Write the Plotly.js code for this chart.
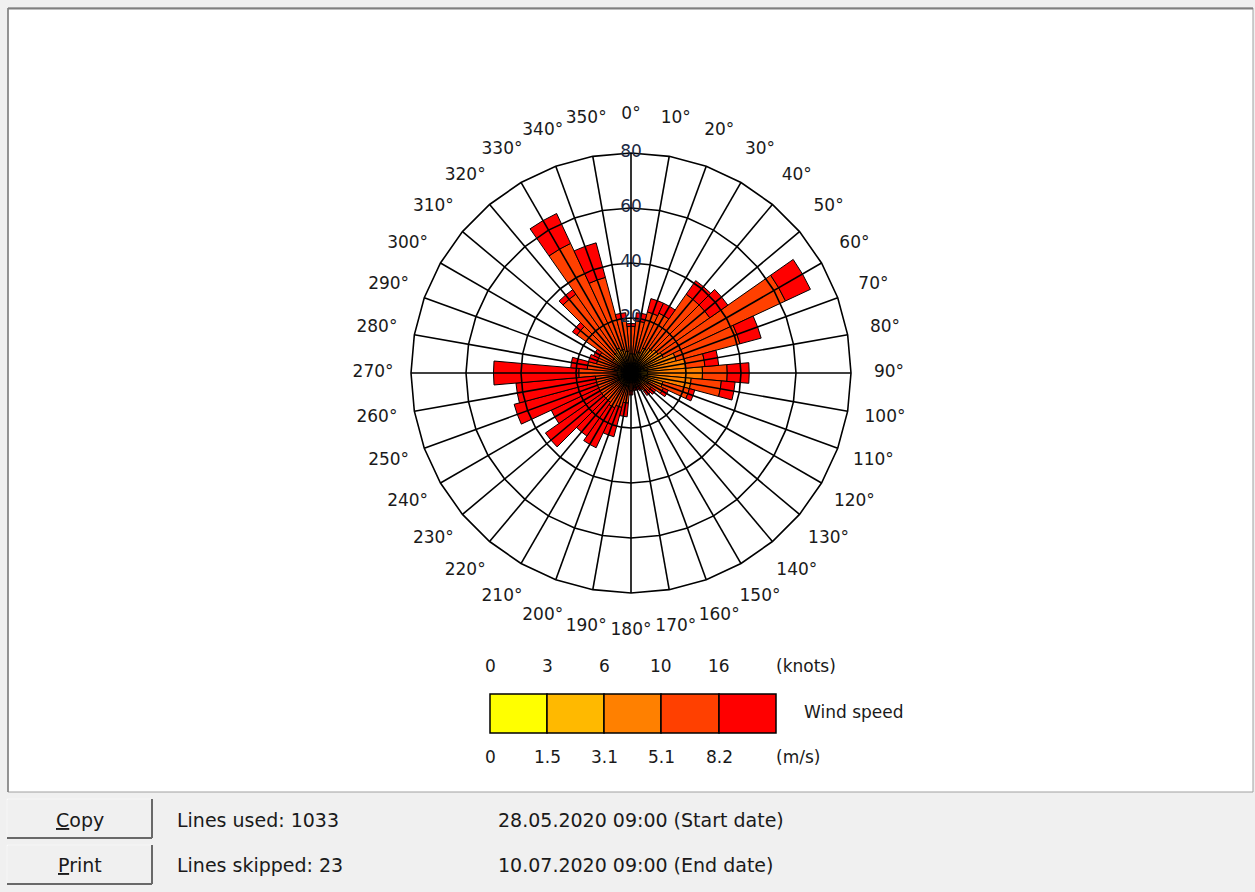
<!DOCTYPE html>
<html>
<head>
<meta charset="utf-8">
<script src="https://cdn.plot.ly/plotly-3.0.1.min.js"></script>
<style>
html,body{margin:0;padding:0;background:#f0f0f0;}
#chart{width:1255px;height:892px;}
</style>
</head>
<body>
<div id="chart"></div>
<script>
// ---- data ----
const directions = [0,10,20,30,40,50,60,70,80,90,100,110,120,130,140,150,160,170,180,190,200,210,220,230,240,250,260,270,280,290,300,310,320,330,340,350];
// frequency per direction for each wind speed class (stacked)
const speed0 = [1,1,1,1,1,1,1,1,1,1,1,1,1,1,1,0.5,0.5,0.5,0.5,0.5,0.5,0.5,0.5,0.5,0.5,0.5,0.5,0.5,0.5,0.5,0.5,1,1,1,1,1];
const speed1 = [2,2,2,3,3,3,3,4,5,5,5,3,2,2,2,1,1,1,1,1.5,1.5,1.5,1.5,1.5,1.5,1.5,1.5,1.5,1.5,1.5,1.5,2,2,2,2,2];
const speed2 = [4,4,5,6,7,8,9,12,14,20,16,8,4,3,2,2,2,2,2,3,3,3,3,3,3,3,3,3,4,3,3,5,6,7,6,5];
const speed3 = [10,12,15,14,24,23,49,24,7,9,11,10,6,3,3,2,2,2,3,6,8,9,8,8,8,8,8,14,10,8,8,16,26,42,27,12];
const speed4 = [1,3,5,4,6,8,10,8,5,8,5,2,2,2,2,1.5,1,1,1.5,5,11,16,15,25,19,31,29,31,6,3,2,2,2,12,13,2];
const speedSeries = [speed0, speed1, speed2, speed3, speed4];
const speedNames = ['0-1.5 m/s','1.5-3.1 m/s','3.1-5.1 m/s','5.1-8.2 m/s','>8.2 m/s'];
const speedColors = ['#ffff00','#ffb900','#ff8000','#ff4000','#ff0000'];
const radialTicks = [20,40,60,80];
const knotsLabels = ['0','3','6','10','16'];
const msLabels = ['0','1.5','3.1','5.1','8.2'];
const linesUsed = 1033;
const linesSkipped = 23;
const startDate = '28.05.2020 09:00';
const endDate = '10.07.2020 09:00';

// ---- layout helpers ----
const W = 1255, H = 892;
const px = x => x / W;
const py = y => 1 - y / H;
const cx = 631, cy = 373;
const rMax = 80;          // outer grid ring
const rRange = 100;       // radial axis range (room for direction labels)
const pxPerUnit = 220 / rMax;
const R = rRange * pxPerUnit;
const font = 'DejaVu Sans, Verdana, sans-serif';
const txt = '#1a1a1a';

const traces = [];
speedSeries.forEach((s, i) => {
  traces.push({
    type: 'barpolar',
    r: s,
    theta: directions,
    width: 10,
    name: speedNames[i],
    marker: {color: speedColors[i], line: {color: '#000', width: 1}},
    hoverinfo: 'skip',
    showlegend: false
  });
});

// grid overlay (spokes + 36-gon rings) drawn above bars
const gr = [], gt = [];
directions.forEach(d => { gr.push(0, rMax, null); gt.push(d, d, null); });
radialTicks.forEach(t => {
  for (let a = 0; a <= 360; a += 10) { gr.push(t); gt.push(a); }
  gr.push(null); gt.push(null);
});
traces.push({
  type: 'scatterpolar', mode: 'lines', r: gr, theta: gt,
  line: {color: '#000', width: 1.6}, hoverinfo: 'skip', showlegend: false, connectgaps: false
});
// radial labels
traces.push({
  type: 'scatterpolar', mode: 'text', r: radialTicks, theta: radialTicks.map(() => 0),
  text: radialTicks.map(String), textposition: 'middle center',
  textfont: {family: font, size: 17, color: '#1c2a44'}, hoverinfo: 'skip', showlegend: false, cliponaxis: false
});
// angular labels
const labelR = 93.8;
traces.push({
  type: 'scatterpolar', mode: 'text', r: directions.map(() => labelR), theta: directions,
  text: directions.map(d => d + '°'), textposition: 'middle center',
  textfont: {family: font, size: 17, color: txt}, hoverinfo: 'skip', showlegend: false, cliponaxis: false
});

const shapes = [];
// white chart panel
shapes.push({type:'rect', xref:'paper', yref:'paper', x0:px(8), x1:px(1253), y0:py(792), y1:py(8),
  fillcolor:'#ffffff', line:{color:'#a0a0a0', width:1}, layer:'below'});
shapes.push({type:'line', xref:'paper', yref:'paper', x0:px(8), x1:px(1253), y0:py(8.5), y1:py(8.5),
  line:{color:'#808080', width:2}, layer:'below'});
shapes.push({type:'line', xref:'paper', yref:'paper', x0:px(8), x1:px(8), y0:py(8), y1:py(792),
  line:{color:'#808080', width:1.5}, layer:'below'});

// legend boxes
const edges = [490, 547, 604, 661, 719, 776];
speedColors.forEach((c, i) => {
  shapes.push({type:'rect', xref:'paper', yref:'paper', x0:px(edges[i]), x1:px(edges[i+1]),
    y0:py(733), y1:py(694), fillcolor:c, line:{color:'#000', width:1.5}});
});

// buttons
function button(y0, y1) {
  shapes.push({type:'rect', xref:'paper', yref:'paper', x0:px(7), x1:px(152), y0:py(y1), y1:py(y0),
    fillcolor:'#f0f0f0', line:{color:'#adadad', width:1}});
  shapes.push({type:'line', xref:'paper', yref:'paper', x0:px(7), x1:px(152), y0:py(y0), y1:py(y0), line:{color:'#ffffff', width:1.5}});
  shapes.push({type:'line', xref:'paper', yref:'paper', x0:px(7), x1:px(7), y0:py(y0), y1:py(y1), line:{color:'#ffffff', width:1.5}});
  shapes.push({type:'line', xref:'paper', yref:'paper', x0:px(7), x1:px(152), y0:py(y1), y1:py(y1), line:{color:'#696969', width:2}});
  shapes.push({type:'line', xref:'paper', yref:'paper', x0:px(152), x1:px(152), y0:py(y0), y1:py(y1), line:{color:'#696969', width:2}});
}
button(799, 838);
button(845, 884);

const annotations = [];
function ann(x, y, text, xa, size, color) {
  annotations.push({xref:'paper', yref:'paper', x:px(x), y:py(y), text:text, showarrow:false,
    xanchor:xa || 'center', yanchor:'middle', font:{family:font, size:size || 17, color:color || txt}});
}
knotsLabels.forEach((l, i) => ann(edges[i], 666, l, 'center'));
ann(774, 666, '(knots)', 'left');
msLabels.forEach((l, i) => ann(edges[i], 757, l, 'center'));
ann(774, 757, '(m/s)', 'left');
ann(802, 712, 'Wind speed', 'left');

ann(80, 820, '<span style="text-decoration:underline">C</span>opy', 'center', 19);
ann(80, 865, '<span style="text-decoration:underline">P</span>rint', 'center', 19);
ann(175, 820, 'Lines used: ' + linesUsed, 'left', 19);
ann(175, 865, 'Lines skipped: ' + linesSkipped, 'left', 19);
ann(496, 820, startDate + ' (Start date)', 'left', 19);
ann(496, 865, endDate + ' (End date)', 'left', 19);

const layout = {
  width: W, height: H,
  margin: {l:0, r:0, t:0, b:0},
  paper_bgcolor: '#f0f0f0',
  showlegend: false,
  polar: {
    domain: {x:[px(cx - R), px(cx + R)], y:[py(cy + R), py(cy - R)]},
    bgcolor: 'rgba(0,0,0,0)',
    barmode: 'stack',
    radialaxis: {range:[0, rRange], showgrid:false, showline:false, showticklabels:false, ticks:''},
    angularaxis: {direction:'clockwise', rotation:90, showgrid:false, showline:false, showticklabels:false, ticks:''}
  },
  shapes: shapes,
  annotations: annotations
};

Plotly.newPlot('chart', traces, layout, {displayModeBar:false, staticPlot:true});
</script>
</body>
</html>
